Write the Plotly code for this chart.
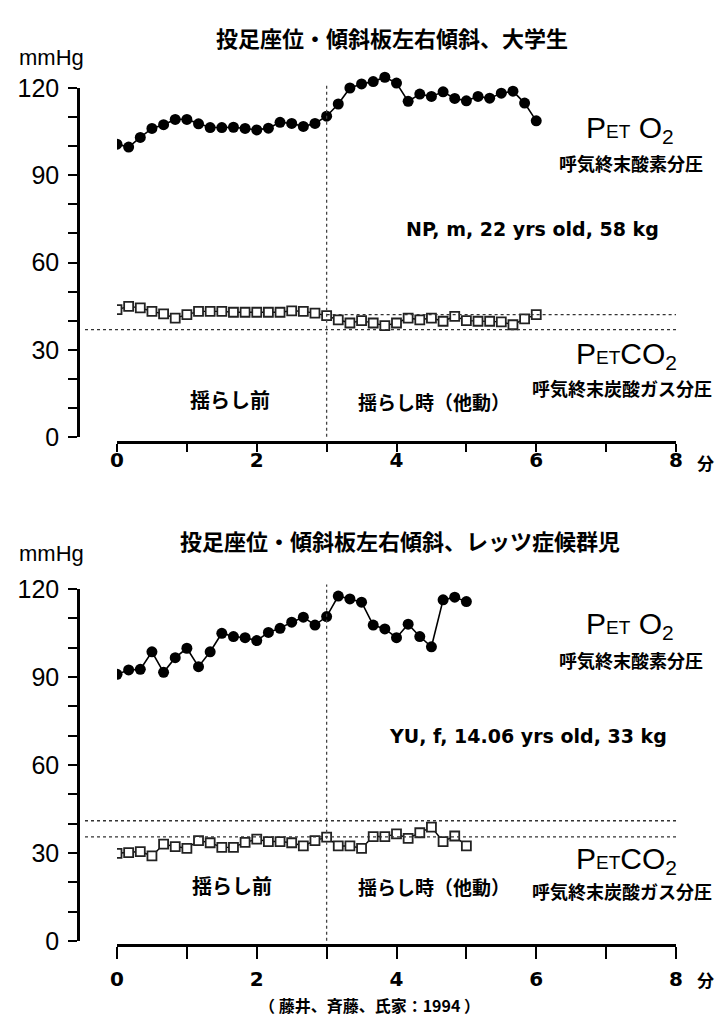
import plotly.graph_objects as go

# ---------------- data ----------------
time_min_top = [round(i / 6, 4) for i in range(37)]  # every 10 s, 0..6 min
peto2_top = [100.7, 99.7, 103.0, 106.1, 107.4, 109.2, 109.2, 107.7, 106.4, 106.4,
             106.5, 106.1, 105.6, 106.2, 108.2, 107.8, 106.8, 107.8, 110.3, 114.5,
             120.0, 121.4, 122.2, 123.7, 121.7, 115.4, 117.9, 117.1, 118.7, 116.4,
             115.6, 117.1, 116.5, 118.2, 118.9, 114.8, 108.7]
petco2_top = [43.8, 44.9, 44.4, 43.2, 42.3, 40.9, 42.1, 43.2, 43.2, 43.2,
              42.9, 42.9, 42.9, 42.9, 42.9, 43.4, 43.2, 42.6, 41.7, 40.3,
              39.2, 40.0, 39.2, 38.3, 39.2, 40.9, 40.3, 40.9, 39.8, 41.5,
              40.0, 39.8, 39.8, 39.6, 38.6, 40.6, 42.1]

time_min_bot = [round(i / 6, 4) for i in range(31)]  # every 10 s, 0..5 min
peto2_bot = [90.9, 92.4, 92.6, 98.6, 91.6, 96.6, 99.8, 93.5, 98.6, 104.9,
             103.8, 103.4, 102.4, 105.2, 106.6, 108.7, 110.4, 107.7, 110.6, 117.6,
             116.6, 115.5, 107.7, 106.4, 103.4, 108.0, 103.8, 100.3, 116.3, 117.2,
             115.7]
petco2_bot = [29.9, 30.1, 30.5, 29.0, 33.0, 32.2, 31.6, 34.2, 33.5, 31.9,
              31.9, 33.6, 34.7, 33.9, 33.9, 33.5, 32.4, 34.2, 35.4, 32.4,
              32.4, 31.6, 35.6, 35.6, 36.5, 35.0, 36.9, 38.8, 33.9, 35.8,
              32.4]

phase_change_min = 3
ref_levels_top = [42.1, 36.9]      # dotted reference levels (mmHg)
ref_levels_bot = [41.0, 35.5]

x_ticks = [0, 1, 2, 3, 4, 5, 6, 7, 8]
x_ticktext = ["0", "", "2", "", "4", "", "6", "", "8"]
y_ticks = [0, 30, 60, 90, 120]

title_top = "投足座位・傾斜板左右傾斜、大学生"
title_bot = "投足座位・傾斜板左右傾斜、レッツ症候群児"
subject_top = "NP, m, 22 yrs old, 58 kg"
subject_bot = "YU, f, 14.06 yrs old, 33 kg"
label_o2_jp = "呼気終末酸素分圧"
label_co2_jp = "呼気終末炭酸ガス分圧"
phase_before = "揺らし前"
phase_during = "揺らし時（他動）"
unit_y = "mmHg"
unit_x = "分"
source = "（ 藤井、斉藤、氏家：1994 ）"

# ---------------- layout helpers ----------------
W, H = 720, 1017
def px(x):
    return x / W
def py(y):
    return 1 - y / H

JP = "Noto Sans CJK JP"
ARIAL = "Liberation Sans, Arial, sans-serif"
HEAVY = "DejaVu Sans, sans-serif"

fig = go.Figure()

panels = [
    dict(t=time_min_top, o2=peto2_top, co2=petco2_top, refs=ref_levels_top,
         y0=437, y120=88, xline=442, xa="x", ya="y", xa2="x3", ya2="y3",
         ref_start=[phase_change_min, None], ticklen=8, standoff=-9),
    dict(t=time_min_bot, o2=peto2_bot, co2=petco2_bot, refs=ref_levels_bot,
         y0=941, y120=589, xline=945, xa="x2", ya="y2", xa2="x4", ya2="y4",
         ref_start=[None, None], ticklen=12, standoff=3),
]

layout_axes = {}
shapes = []
for p in panels:
    ppu = (p["y0"] - p["y120"]) / 120.0
    top_data = p["y0"] - 128 * ppu
    fig.add_trace(go.Scatter(x=p["t"], y=p["o2"], mode="lines+markers",
                             line=dict(color="black", width=1.6),
                             marker=dict(symbol="circle", size=11, color="black"),
                             xaxis=p["xa"], yaxis=p["ya"], showlegend=False))
    fig.add_trace(go.Scatter(x=p["t"], y=p["co2"], mode="lines+markers",
                             line=dict(color="black", width=1.4),
                             marker=dict(symbol="square", size=9, color="white",
                                         line=dict(width=1.8, color="#222")),
                             xaxis=p["xa"], yaxis=p["ya"], showlegend=False))
    fig.add_trace(go.Scatter(x=[None], y=[None], xaxis=p["xa2"], yaxis=p["ya2"],
                             showlegend=False, hoverinfo="skip"))
    xdom = [px(117), px(676)]
    xk = "xaxis" + p["xa"][1:]
    yk = "yaxis" + p["ya"][1:]
    xk2 = "xaxis" + p["xa2"][1:]
    yk2 = "yaxis" + p["ya2"][1:]
    layout_axes[xk] = dict(domain=xdom, range=[0, 8], anchor="free", position=py(p["xline"]),
                           automargin=False,
                           showline=True, linecolor="black", linewidth=3,
                           ticks="outside", ticklen=p["ticklen"], tickwidth=1.5, tickcolor="black",
                           tickvals=x_ticks, ticktext=x_ticktext,
                           ticklabelstandoff=p["standoff"],
                           tickfont=dict(family=HEAVY, size=20, color="black", weight="bold"),
                           showgrid=False, zeroline=False, fixedrange=True)
    layout_axes[yk] = dict(domain=[py(p["y0"]), py(top_data)], range=[0, 128],
                           anchor=p["xa"], visible=False, fixedrange=True, automargin=False)
    layout_axes[xk2] = dict(domain=xdom, range=[0, 8], visible=False, anchor=p["ya2"],
                            automargin=False)
    layout_axes[yk2] = dict(domain=[py(p["y0"]), py(p["y120"])], range=[0, 120],
                            anchor="free", position=px(78), side="left", automargin=False,
                            showline=True, linecolor="black", linewidth=2.5,
                            ticks="outside", ticklen=9, tickwidth=1.5, tickcolor="black",
                            tickvals=y_ticks, ticklabelstandoff=4,
                            minor=dict(dtick=10, ticks="outside", ticklen=9,
                                       tickwidth=1.5, tickcolor="black"),
                            tickfont=dict(family=ARIAL, size=25, color="black"),
                            showgrid=False, zeroline=False, fixedrange=True)
    shapes.append(dict(type="line", xref=p["xa"], yref=p["ya"],
                       x0=phase_change_min, x1=phase_change_min, y0=-2, y1=121.5,
                       line=dict(color="#444", width=1.3, dash="dot")))
    for lvl, st in zip(p["refs"], p["ref_start"]):
        if st is None:
            shapes.append(dict(type="line", xref="paper", yref=p["ya"],
                               x0=px(85), x1=px(676), y0=lvl, y1=lvl,
                               line=dict(color="#333", width=1.3, dash="dot")))
        else:
            shapes.append(dict(type="line", xref=p["xa"], yref=p["ya"],
                               x0=st, x1=8, y0=lvl, y1=lvl,
                               line=dict(color="#333", width=1.3, dash="dot")))

def ann(text, x, y, size, family=JP, bold=False, xanchor="center"):
    return dict(text=text, x=px(x), y=py(y), xref="paper", yref="paper",
                xanchor=xanchor, yanchor="middle", showarrow=False,
                font=dict(family=family, size=size, color="black",
                          weight="bold" if bold else "normal"))

pet_o2 = "P<span style='font-size:19px'>ET</span> O<sub>2</sub>"
pet_co2 = "P<span style='font-size:19px'>ET</span>CO<sub>2</sub>"

annotations = [
    ann(title_top, 392, 37, 22, bold=True),
    ann(unit_y, 51, 58, 22, family=ARIAL),
    ann(pet_o2, 630, 129, 30, family=ARIAL),
    ann(label_o2_jp, 631, 163, 18, bold=True),
    ann(subject_top, 532, 229, 19, family=HEAVY, bold=True),
    ann(pet_co2, 626, 355, 30, family=ARIAL),
    ann(label_co2_jp, 622, 388, 18, bold=True),
    ann(phase_before, 230, 399, 20, bold=True),
    ann(phase_during, 434, 401, 19, bold=True),
    ann(unit_x, 705, 463, 17, bold=True),

    ann(title_bot, 400, 540, 22, bold=True),
    ann(unit_y, 51, 553, 22, family=ARIAL),
    ann(pet_o2, 630, 625, 30, family=ARIAL),
    ann(label_o2_jp, 631, 660, 18, bold=True),
    ann(subject_bot, 528, 736, 19, family=HEAVY, bold=True),
    ann(pet_co2, 626, 860, 30, family=ARIAL),
    ann(label_co2_jp, 622, 891, 18, bold=True),
    ann(phase_before, 232, 885, 20, bold=True),
    ann(phase_during, 434, 886, 19, bold=True),
    ann(unit_x, 705, 979, 17, bold=True),

    ann(source, 370, 1005, 16, bold=True),
]

fig.update_layout(width=W, height=H, margin=dict(l=0, r=0, t=0, b=0, autoexpand=False),
                  paper_bgcolor="white", plot_bgcolor="rgba(0,0,0,0)",
                  shapes=shapes, annotations=annotations, **layout_axes)

fig.write_html("out.html", config={"displayModeBar": False},
               post_script="document.body.style.margin='0';document.body.style.padding='0';")
